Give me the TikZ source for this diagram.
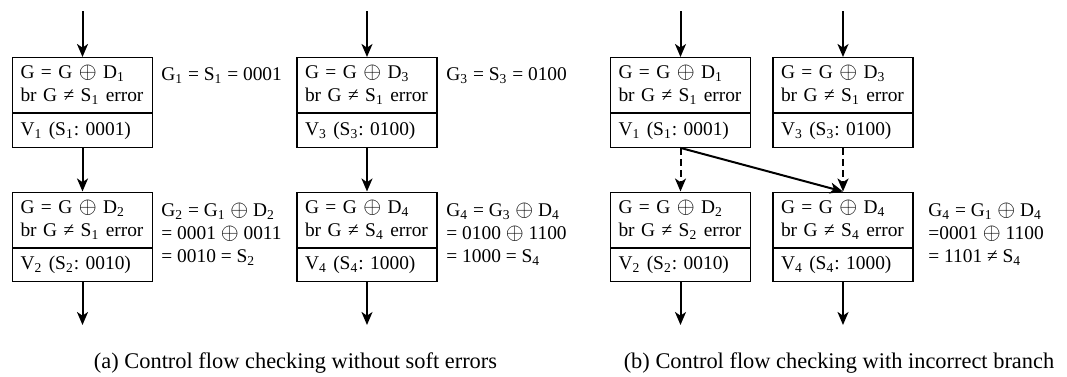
\documentclass[tikz,border=0pt]{standalone}
\usepackage{fontspec}
\setmainfont{Liberation Serif}
\usetikzlibrary{arrows.meta}
\newcommand\xo{\scalebox{1.15}{$\oplus$}}
\begin{document}
\frenchspacing
\begin{tikzpicture}[x=0.5pt,y=-0.5pt,
  every node/.style={font=\fontsize{9.7}{11.5}\selectfont},
  upper/.style={draw, line width=0.6pt, minimum width=70pt, minimum height=27.5pt, text width=62pt, inner xsep=4pt, inner ysep=0pt, align=left, anchor=north},
  lower/.style={draw, line width=0.6pt, minimum width=70pt, minimum height=16.75pt, text width=62pt, inner xsep=4pt, inner ysep=0pt, align=left, anchor=north},
  flow/.style={line width=1pt, -{Stealth[length=6.5pt,width=5.5pt,inset=1.8pt]}},
  dflow/.style={flow, dash pattern=on 3.5pt off 2pt},
  note/.style={anchor=base west, align=left, inner sep=0pt},
  caption/.style={anchor=center, inner sep=0pt, font=\fontsize{11.2}{13}\selectfont}]
\useasboundingbox (0,0) rectangle (1067,376);

% ---------- panel (a) ----------
\node[upper] (a1t) at (82.5,57) {\mbox{G = G \xo{} D\textsubscript{1}}\\\mbox{br G ≠ S\textsubscript{1} error}};
\node[lower] (a1b) at (a1t.south) {\mbox{V\textsubscript{1} (S\textsubscript{1}: 0001)}};
\node[upper] (a2t) at (82.5,191.5) {\mbox{G = G \xo{} D\textsubscript{2}}\\\mbox{br G ≠ S\textsubscript{1} error}};
\node[lower] (a2b) at (a2t.south) {\mbox{V\textsubscript{2} (S\textsubscript{2}: 0010)}};
\node[upper] (a3t) at (367,57) {\mbox{G = G \xo{} D\textsubscript{3}}\\\mbox{br G ≠ S\textsubscript{1} error}};
\node[lower] (a3b) at (a3t.south) {\mbox{V\textsubscript{3} (S\textsubscript{3}: 0100)}};
\node[upper] (a4t) at (367,191.5) {\mbox{G = G \xo{} D\textsubscript{4}}\\\mbox{br G ≠ S\textsubscript{4} error}};
\node[lower] (a4b) at (a4t.south) {\mbox{V\textsubscript{4} (S\textsubscript{4}: 1000)}};

\coordinate (a1in) at (82.5,11);
\coordinate (a3in) at (367,11);
\coordinate (a2out) at (82.5,325);
\coordinate (a4out) at (367,325);
\draw[flow] (a1in) -- (a1t.north);
\draw[flow] (a1b.south) -- (a2t.north);
\draw[flow] (a2b.south) -- (a2out);
\draw[flow] (a3in) -- (a3t.north);
\draw[flow] (a3b.south) -- (a4t.north);
\draw[flow] (a4b.south) -- (a4out);

\node[note] (la1) at (161,80) {G\textsubscript{1} = S\textsubscript{1} = 0001};
\node[note] (la2) at (161,262) {G\textsubscript{2} = G\textsubscript{1} \xo{} D\textsubscript{2}\\= 0001 \xo{} 0011\\= 0010 = S\textsubscript{2}};
\node[note] (la3) at (446,80) {G\textsubscript{3} = S\textsubscript{3} = 0100};
\node[note] (la4) at (446,262) {G\textsubscript{4} = G\textsubscript{3} \xo{} D\textsubscript{4}\\= 0100 \xo{} 1100\\= 1000 = S\textsubscript{4}};

\node[caption] (capa) at (295.5,363) {(a) Control flow checking without soft errors};

% ---------- panel (b) ----------
\node[upper] (b1t) at (680.5,57) {\mbox{G = G \xo{} D\textsubscript{1}}\\\mbox{br G ≠ S\textsubscript{1} error}};
\node[lower] (b1b) at (b1t.south) {\mbox{V\textsubscript{1} (S\textsubscript{1}: 0001)}};
\node[upper] (b2t) at (680.5,191.5) {\mbox{G = G \xo{} D\textsubscript{2}}\\\mbox{br G ≠ S\textsubscript{2} error}};
\node[lower] (b2b) at (b2t.south) {\mbox{V\textsubscript{2} (S\textsubscript{2}: 0010)}};
\node[upper] (b3t) at (843,57) {\mbox{G = G \xo{} D\textsubscript{3}}\\\mbox{br G ≠ S\textsubscript{1} error}};
\node[lower] (b3b) at (b3t.south) {\mbox{V\textsubscript{3} (S\textsubscript{3}: 0100)}};
\node[upper] (b4t) at (843,191.5) {\mbox{G = G \xo{} D\textsubscript{4}}\\\mbox{br G ≠ S\textsubscript{4} error}};
\node[lower] (b4b) at (b4t.south) {\mbox{V\textsubscript{4} (S\textsubscript{4}: 1000)}};

\coordinate (b1in) at (680.5,11);
\coordinate (b3in) at (843,11);
\coordinate (b2out) at (680.5,325);
\coordinate (b4out) at (843,325);
\draw[flow] (b1in) -- (b1t.north);
\draw[flow] (b3in) -- (b3t.north);
\draw[dflow] (b1b.south) -- (b2t.north);
\draw[dflow] (b3b.south) -- (b4t.north);
\draw[flow] (b1b.south) -- (b4t.north);
\draw[flow] (b2b.south) -- (b2out);
\draw[flow] (b4b.south) -- (b4out);

\node[note] (lb4) at (928,262) {G\textsubscript{4} = G\textsubscript{1} \xo{} D\textsubscript{4}\\=0001 \xo{} 1100\\= 1101 ≠ S\textsubscript{4}};

\node[caption] (capb) at (839,363) {(b) Control flow checking with incorrect branch};
\end{tikzpicture}
\end{document}
